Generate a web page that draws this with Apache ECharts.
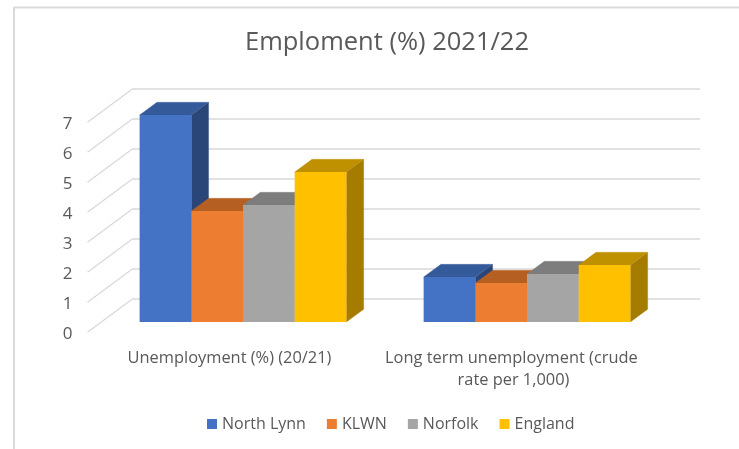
<!DOCTYPE html>
<html><head><meta charset="utf-8">
<style>html,body{margin:0;padding:0;background:#fff}#c{width:739px;height:449px}</style>
<script src="https://cdn.jsdelivr.net/npm/echarts@6/dist/echarts.min.js"></script>
</head><body><div id="c"></div>
<script>
const categories = ['Unemployment (%) (20/21)', 'Long term unemployment (crude rate per 1,000)'];
const northLynn = [6.9, 1.5];
const klwn = [3.7, 1.3];
const norfolk = [3.9, 1.6];
const england = [5.0, 1.9];
const yTicks = [0, 1, 2, 3, 4, 5, 6, 7];
const seriesNames = ['North Lynn', 'KLWN', 'Norfolk', 'England'];
const seriesValues = [northLynn, klwn, norfolk, england];
const palette = [
  {front:'#4472C4', top:'#355A99', side:'#2A4679'},
  {front:'#ED7D31', top:'#B55F23', side:'#AD5A21'},
  {front:'#A5A5A5', top:'#7D7D7D', side:'#787878'},
  {front:'#FFC000', top:'#BF9000', side:'#A67C00'}
];
const FONT = '"Open Sans", "Noto Sans", sans-serif';
const TXT = '#595959', GRIDC = '#D9D9D9';
const barShare = 0.182, depthX = 17.3, depthY = -12.7;
const wallDX = 44.5, wallDY = -33;

function barItem(si) {
  return function (params, api) {
    const cat = api.value(0), v = api.value(1);
    const band = api.size([1, 0])[0];
    const w = band * barShare;
    const base = api.coord([cat, 0]);
    const topP = api.coord([cat, v]);
    const x0 = base[0] - 2 * w + si * w, x1 = x0 + w, y0 = base[1], y1 = topP[1];
    const c = palette[si];
    const poly = (pts, fill) => ({type: 'polygon', shape: {points: pts}, style: {fill: fill, stroke: fill, lineWidth: 0.3}});
    return {type: 'group', children: [
      poly([[x1, y0], [x1 + depthX, y0 + depthY], [x1 + depthX, y1 + depthY], [x1, y1]], c.side),
      poly([[x0, y1], [x1, y1], [x1 + depthX, y1 + depthY], [x0 + depthX, y1 + depthY]], c.top),
      {type: 'rect', shape: {x: x0, y: y1, width: w, height: y0 - y1}, style: {fill: c.front}}
    ]};
  };
}

const barSeries = seriesNames.map((name, si) => ({
  name: name, type: 'custom', xAxisIndex: 0, yAxisIndex: 0, z: 10 + si,
  itemStyle: {color: palette[si].front},
  encode: {x: 0, y: 1},
  data: seriesValues[si].map((v, i) => [i, v]),
  renderItem: barItem(si)
}));

const diagSeries = {
  type: 'custom', xAxisIndex: 2, yAxisIndex: 2, z: 2, silent: true,
  encode: {y: 0},
  data: yTicks.map(t => [t]),
  renderItem: function (params, api) {
    const left = params.coordSys.x;
    const y = api.coord([0, api.value(0)])[1];
    return {type: 'line', shape: {x1: left, y1: y, x2: left + wallDX, y2: y + wallDY},
      style: {stroke: GRIDC, lineWidth: 1.2}};
  }
};

const chart = echarts.init(document.getElementById('c'), null, {renderer: 'canvas'});
chart.setOption({
  animation: false,
  backgroundColor: '#fff',
  textStyle: {fontFamily: FONT},
  title: {text: 'Emploment (%) 2021/22', left: 382, top: 25, textAlign: 'center',
    textStyle: {fontFamily: FONT, fontWeight: 'normal', fontSize: 25.5, color: TXT}},
  legend: {
    data: seriesNames, icon: 'rect', itemWidth: 10, itemHeight: 10, itemGap: 21, top: 416, left: 207, padding: 0,
    textStyle: {fontFamily: FONT, fontSize: 16, color: TXT}
  },
  grid: [
    {left: 101, width: 568, top: 112, height: 210},
    {left: 132, width: 568, top: 89, height: 210},
    {left: 87.5, width: 568, top: 122.3, height: 210},
    {left: 87.5, width: 568, top: 124, height: 210}
  ],
  xAxis: [
    {type: 'category', gridIndex: 0, data: categories, show: false},
    {type: 'category', gridIndex: 1, data: categories, show: false},
    {type: 'category', gridIndex: 2, data: categories,
      axisLine: {show: false}, axisTick: {show: false},
      axisLabel: {interval: 0, color: TXT, fontSize: 16.4, fontFamily: FONT, margin: 15,
        width: 275, overflow: 'break', lineHeight: 22}},
    {type: 'category', gridIndex: 3, data: categories, show: false}
  ],
  yAxis: [
    {type: 'value', gridIndex: 0, min: 0, max: 7, interval: 1, show: false},
    {type: 'value', gridIndex: 1, min: 0, max: 7, interval: 1,
      axisLine: {show: false}, axisTick: {show: false}, axisLabel: {show: false},
      splitLine: {show: true, lineStyle: {color: GRIDC, width: 1.5}}},
    {type: 'value', gridIndex: 2, min: 0, max: 7, interval: 1, show: false},
    {type: 'value', gridIndex: 3, min: 0, max: 7, interval: 1,
      axisLine: {show: false}, axisTick: {show: false}, splitLine: {show: false},
      axisLabel: {color: TXT, fontSize: 17, fontFamily: FONT, margin: 15}}
  ],
  series: [diagSeries].concat(barSeries),
  graphic: [
    {type: 'line', shape: {x1: 14, y1: 7.5, x2: 739, y2: 7.5}, style: {stroke: GRIDC, lineWidth: 2}},
    {type: 'line', shape: {x1: 14, y1: 7, x2: 14, y2: 449}, style: {stroke: GRIDC, lineWidth: 2}}
  ]
});
</script></body></html>
